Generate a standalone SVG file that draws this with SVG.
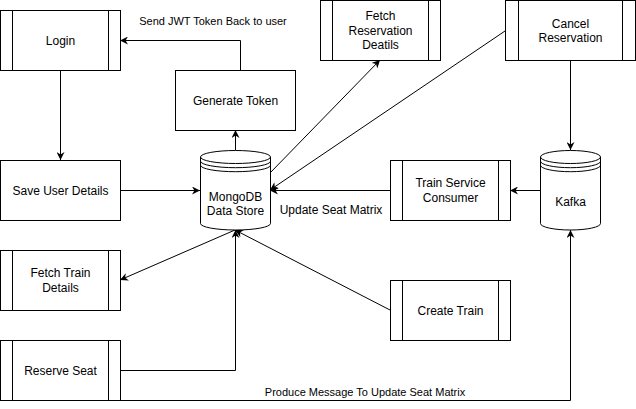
<svg xmlns="http://www.w3.org/2000/svg" width="636" height="409" viewBox="0 0 636 409">
<style>
.box{fill:#fff;stroke:#000;stroke-width:1}
.in{stroke:#000;stroke-width:1;fill:none}
.t{font-family:"Liberation Sans",Arial,sans-serif;font-size:12px;fill:#000;text-anchor:middle}
.lbl{font-family:"Liberation Sans",Arial,sans-serif;font-size:11px;fill:#000;text-anchor:middle}
.lbl12{font-family:"Liberation Sans",Arial,sans-serif;font-size:12px;fill:#000;text-anchor:middle}
.e{fill:none;stroke:#000;stroke-width:1}
</style>
<defs>
<marker id="arr" viewBox="0 0 10 10" refX="10" refY="5" markerWidth="8" markerHeight="8" markerUnits="userSpaceOnUse" orient="auto">
<path d="M0,0 L10,5 L0,10 L3,5 Z" fill="#000"/>
</marker>
</defs>
<rect width="636" height="409" fill="#fff"/>
<g id="connectors">
<path class="e" d="M60.5,70 L60.5,160" marker-end="url(#arr)"/>
<path class="e" d="M120,190.5 L200,190.5" marker-end="url(#arr)"/>
<path class="e" d="M235.5,150 L235.5,130" marker-end="url(#arr)"/>
<path class="e" d="M240.5,70 L240.5,40.5 L120,40.5" marker-end="url(#arr)"/>
<path class="e" d="M270,173 L380,60" marker-end="url(#arr)"/>
<path class="e" d="M505,31 L270,190" marker-end="url(#arr)"/>
<path class="e" d="M390,190.5 L270,190.5" marker-end="url(#arr)"/>
<path class="e" d="M540,190.5 L510,190.5" marker-end="url(#arr)"/>
<path class="e" d="M570.5,60 L570.5,150" marker-end="url(#arr)"/>
<path class="e" d="M235,230 L120,280" marker-end="url(#arr)"/>
<path class="e" d="M390,310 L235,230" marker-end="url(#arr)"/>
<path class="e" d="M120,370.5 L235.5,370.5 L235.5,230" marker-end="url(#arr)"/>
<path class="e" d="M120,400.5 L570.5,400.5 L570.5,230" marker-end="url(#arr)"/>
<text class="lbl" x="213" y="25">Send JWT Token Back to user</text>
<text class="lbl12" x="331" y="214">Update Seat Matrix</text>
<text class="lbl" x="365" y="396">Produce Message To Update Seat Matrix</text>
</g>
<g id="login">
<rect class="box" x="0.5" y="10.5" width="120" height="60"/>
<path class="in" d="M12.5,10.5 V70.5 M108.5,10.5 V70.5"/>
<text class="t" x="60.5" y="44.5">Login</text>
</g>
<g id="generate-token">
<rect class="box" x="175.5" y="70.5" width="120" height="60"/>
<text class="t" x="235.5" y="104.5">Generate Token</text>
</g>
<g id="save-user">
<rect class="box" x="0.5" y="160.5" width="120" height="60"/>
<text class="t" x="60.5" y="194.5">Save User Details</text>
</g>
<g id="mongodb">
<path class="box" d="M200.5,157 A35,6.5 0 0 1 270.5,157 V223.5 A35,6.5 0 0 1 200.5,223.5 Z"/>
<path class="in" d="M200.5,157 A35,6.5 0 0 0 270.5,157 M200.5,161.2 A35,6.5 0 0 0 270.5,161.2 M200.5,165.2 A35,6.5 0 0 0 270.5,165.2"/>
<text class="t" x="235.5" y="201">MongoDB</text>
<text class="t" x="235.5" y="215">Data Store</text>
</g>
<g id="fetch-reservation">
<rect class="box" x="320.5" y="0.5" width="120" height="60"/>
<path class="in" d="M332.5,0.5 V60.5 M428.5,0.5 V60.5"/>
<text class="t" x="380.5" y="20">Fetch</text>
<text class="t" x="380.5" y="34.5">Reservation</text>
<text class="t" x="380.5" y="49">Deatils</text>
</g>
<g id="cancel-reservation">
<rect class="box" x="505.5" y="0.5" width="130" height="60"/>
<path class="in" d="M518.5,0.5 V60.5 M622.5,0.5 V60.5"/>
<text class="t" x="570.5" y="27.5">Cancel</text>
<text class="t" x="570.5" y="41.5">Reservation</text>
</g>
<g id="kafka">
<path class="box" d="M540.5,157 A30,6.5 0 0 1 600.5,157 V223.5 A30,6.5 0 0 1 540.5,223.5 Z"/>
<path class="in" d="M540.5,157 A30,6.5 0 0 0 600.5,157 M540.5,161.2 A30,6.5 0 0 0 600.5,161.2 M540.5,165.2 A30,6.5 0 0 0 600.5,165.2"/>
<text class="t" x="570.5" y="206">Kafka</text>
</g>
<g id="train-service-consumer">
<rect class="box" x="390.5" y="160.5" width="120" height="60"/>
<path class="in" d="M402.5,160.5 V220.5 M498.5,160.5 V220.5"/>
<text class="t" x="450.5" y="187">Train Service</text>
<text class="t" x="450.5" y="201.5">Consumer</text>
</g>
<g id="fetch-train">
<rect class="box" x="0.5" y="250.5" width="120" height="60"/>
<path class="in" d="M12.5,250.5 V310.5 M108.5,250.5 V310.5"/>
<text class="t" x="60.5" y="277">Fetch Train</text>
<text class="t" x="60.5" y="292">Details</text>
</g>
<g id="create-train">
<rect class="box" x="390.5" y="280.5" width="120" height="60"/>
<path class="in" d="M402.5,280.5 V340.5 M498.5,280.5 V340.5"/>
<text class="t" x="450.5" y="314.5">Create Train</text>
</g>
<g id="reserve-seat">
<rect class="box" x="0.5" y="340.5" width="120" height="60"/>
<path class="in" d="M12.5,340.5 V400.5 M108.5,340.5 V400.5"/>
<text class="t" x="60.5" y="374.5">Reserve Seat</text>
</g>
</svg>
